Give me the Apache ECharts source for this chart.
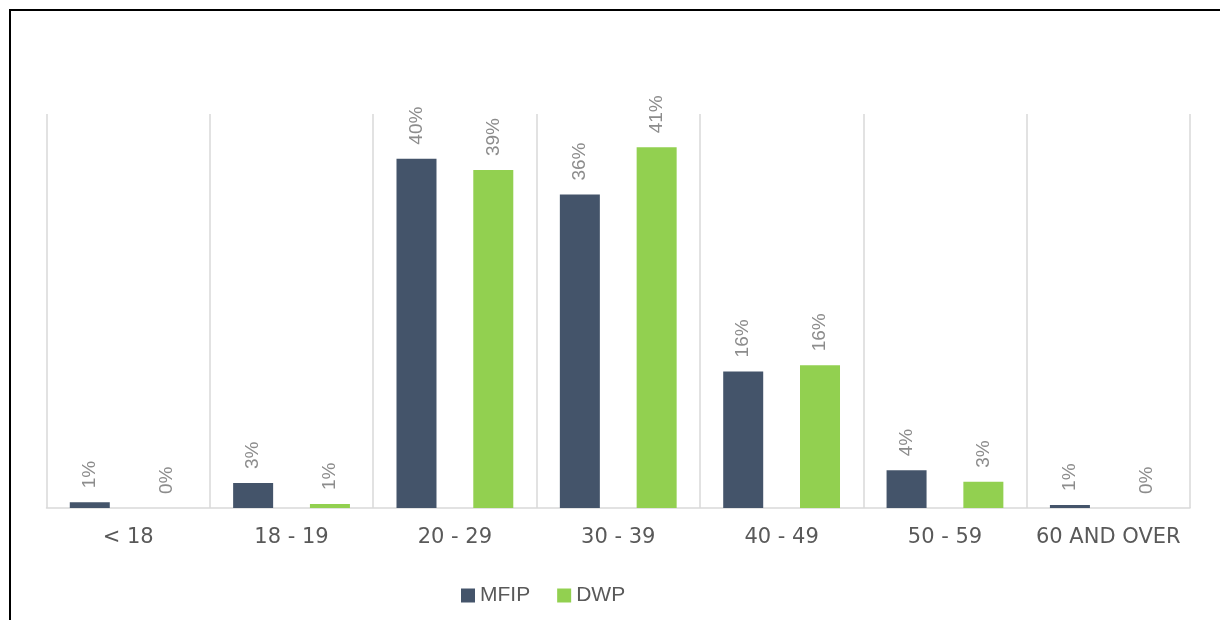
<!DOCTYPE html>
<html>
<head>
<meta charset="utf-8">
<script src="https://cdn.jsdelivr.net/npm/echarts@6/dist/echarts.min.js"></script>
<style>
  html, body { margin: 0; padding: 0; background: #fff; }
  #chart { width: 1220px; height: 620px; }
</style>
</head>
<body>
<div id="chart"></div>
<script>
let ageGroups = ['< 18', '18 - 19', '20 - 29', '30 - 39', '40 - 49', '50 - 59', '60 AND OVER'];
let mfipValues = [0.65, 2.85, 39.9, 35.8, 15.6, 4.3, 0.35];
let dwpValues = [0, 0.45, 38.6, 41.2, 16.3, 3.0, 0];
let mfipLabels = ['1%', '3%', '40%', '36%', '16%', '4%', '1%'];
let dwpLabels = ['0%', '1%', '39%', '41%', '16%', '3%', '0%'];

let myChart = echarts.init(document.getElementById('chart'));

function barLabel(texts) {
  return {
    show: true,
    position: 'top',
    rotate: 90,
    align: 'left',
    verticalAlign: 'middle',
    distance: 14,
    color: '#8c8c8c',
    fontFamily: 'Liberation Sans',
    fontSize: 19,
    formatter: function(p) {
      return texts[p.dataIndex];
    }
  };
}

let option = {
  animation: false,
  backgroundColor: '#fff',
  graphic: [
    {
      type: 'polyline',
      shape: { points: [[10, 620], [10, 10], [1220, 10]] },
      style: { stroke: '#000', lineWidth: 2, fill: null }
    }
  ],
  legend: {
    data: ['MFIP', 'DWP'],
    left: 456,
    top: 580,
    itemWidth: 14,
    itemHeight: 14,
    itemGap: 27,
    icon: 'rect',
    textStyle: {
      color: '#595959',
      fontFamily: 'Liberation Sans',
      fontSize: 21
    }
  },
  grid: {
    left: 46.5,
    right: 30,
    top: 114,
    bottom: 112
  },
  xAxis: {
    type: 'category',
    data: ageGroups,
    axisLine: { lineStyle: { color: '#d9d9d9', width: 1.5 } },
    axisTick: { show: false },
    splitLine: { show: true, lineStyle: { color: '#d9d9d9', width: 1.5 } },
    axisLabel: {
      color: '#595959',
      fontFamily: 'DejaVu Sans',
      fontSize: 21,
      margin: 19,
      interval: 0
    }
  },
  yAxis: {
    type: 'value',
    min: 0,
    max: 45,
    show: false,
    splitLine: { show: false }
  },
  series: [
    {
      name: 'MFIP',
      type: 'bar',
      data: mfipValues,
      barWidth: 40,
      barGap: '92%',
      itemStyle: { color: '#44546A' },
      label: barLabel(mfipLabels)
    },
    {
      name: 'DWP',
      type: 'bar',
      data: dwpValues,
      barWidth: 40,
      itemStyle: { color: '#92D050' },
      label: barLabel(dwpLabels)
    }
  ]
};

myChart.setOption(option);
</script>
</body>
</html>
